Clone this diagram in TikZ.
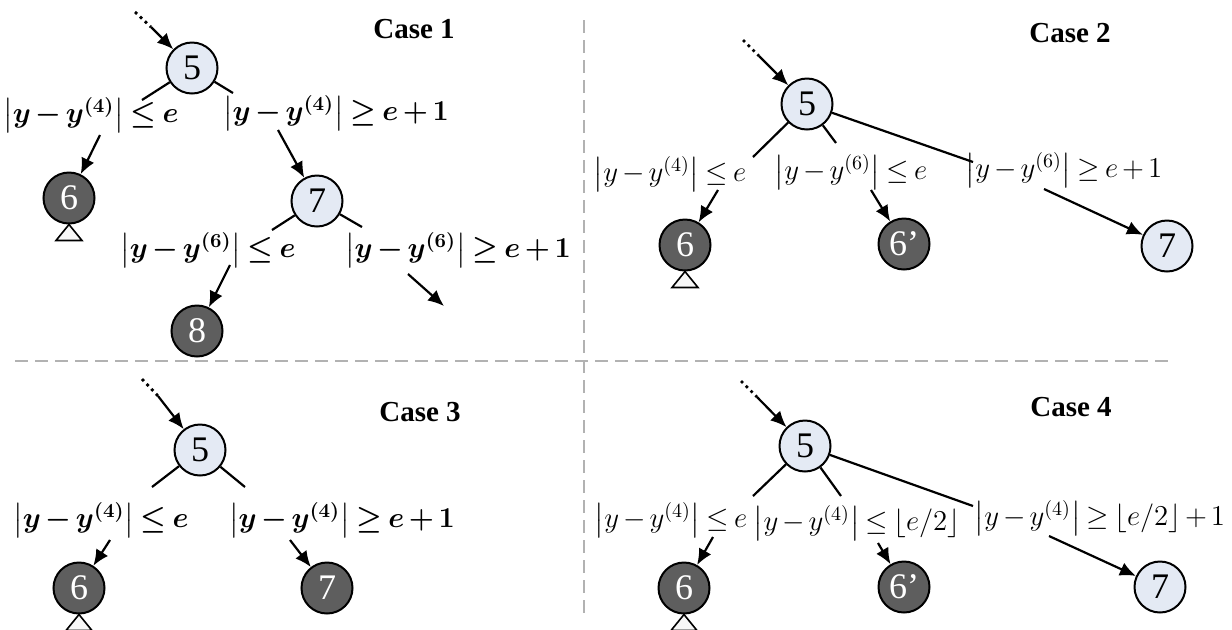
\documentclass[tikz,border=0pt]{standalone}
\usepackage{amsmath}
\usepackage{fontspec}
\newfontfamily\casefont{Liberation Serif}
\usetikzlibrary{arrows.meta}
\definecolor{lightfill}{HTML}{E4EAF4}
\definecolor{darkfill}{HTML}{5E5E5E}
\newcommand\tightmath{\medmuskip=2.5mu\relax\thickmuskip=3.5mu\relax}
\newcommand\dist[1]{\bigl|y-y^{(#1)}\bigr|}

\begin{document}
\begin{tikzpicture}[x=.5pt,y=-.5pt,
    litnode/.style={circle,draw,line width=1pt,fill=lightfill,minimum size=25.5pt,
        inner sep=0pt,font=\casefont\fontsize{18}{18}\selectfont},
    darknode/.style={litnode,fill=darkfill,text=white},
    cond/.style={inner sep=0pt,font=\fontsize{14.5}{16}\selectfont\tightmath},
    bcond/.style={inner sep=0pt,font=\fontsize{14}{16}\selectfont\boldmath\tightmath},
    casetitle/.style={font=\casefont\bfseries\fontsize{14.5}{16}\selectfont},
    branch/.style={line width=1.1pt},
    arr/.style={-{Latex[length=8pt,width=7pt]},line width=1.1pt},
    lead/.style={dotted,line width=1.4pt},
    divider/.style={gray!60,line width=.6pt,dash pattern=on 6.5pt off 3.5pt}]
    \useasboundingbox (0,0) rectangle (1232,629);

    % dividers
    \draw[divider] (584,20) -- (584,620);
    \draw[divider] (15,361) -- (1170,361);

    % Case 1
    \node[casetitle] (t1) at (414,29) {Case 1};
    \node[litnode] (c1n5) at (192,68) {5};
    \node[darknode] (c1n6) at (69,198) {6};
    \node[litnode] (c1n7) at (317,201) {7};
    \node[darknode] (c1n8) at (197,331) {8};
    \node[bcond] (c1l1) at (91,115) {$\dist{4}\le e$};
    \node[bcond] (c1l2) at (336,113) {$\dist{4}\ge e+1$};
    \node[bcond] (c1l3) at (208,250) {$\dist{6}\le e$};
    \node[bcond] (c1l4) at (458,250) {$\dist{6}\ge e+1$};
    \coordinate (c1s) at (135,12);
    \coordinate (c1m) at (151,27);
    \draw[lead] (c1s) -- (c1m);
    \draw[arr] (c1m) -- (c1n5);
    \coordinate (c1a) at (142,100);
    \coordinate (c1b) at (100,135);
    \coordinate (c1c) at (233,93);
    \coordinate (c1d) at (278,130);
    \draw[branch] (c1n5) -- (c1a);
    \draw[arr] (c1b) -- (c1n6);
    \draw[branch] (c1n5) -- (c1c);
    \draw[arr] (c1d) -- (c1n7);
    \coordinate (c1e) at (272,230);
    \coordinate (c1f) at (230,265);
    \coordinate (c1g) at (362,227);
    \coordinate (c1h) at (408,274);
    \coordinate (c1i) at (444,306);
    \draw[branch] (c1n7) -- (c1e);
    \draw[arr] (c1f) -- (c1n8);
    \draw[branch] (c1n7) -- (c1g);
    \draw[arr] (c1h) -- (c1i);

    % Case 2
    \node[casetitle] (t2) at (1070,33) {Case 2};
    \node[litnode] (c2n5) at (807,104) {5};
    \node[darknode] (c2n6) at (685,245) {6};
    \node[darknode] (c2n6b) at (904,244) {6’};
    \node[litnode] (c2n7) at (1167,246) {7};
    \node[cond] (c2l1) at (670,174) {$\dist{4}\le e$};
    \node[cond] (c2l2) at (851,172) {$\dist{6}\le e$};
    \node[cond] (c2l3) at (1064,170) {$\dist{6}\ge e+1$};
    \coordinate (c2s) at (743,40);
    \coordinate (c2m) at (759,56);
    \draw[lead] (c2s) -- (c2m);
    \draw[arr] (c2m) -- (c2n5);
    \coordinate (c2a) at (753,157);
    \coordinate (c2b) at (718,190);
    \coordinate (c2c) at (836,143);
    \coordinate (c2d) at (871,190);
    \coordinate (c2e) at (973,162);
    \coordinate (c2f) at (1044,189);
    \draw[branch] (c2n5) -- (c2a);
    \draw[arr] (c2b) -- (c2n6);
    \draw[branch] (c2n5) -- (c2c);
    \draw[arr] (c2d) -- (c2n6b);
    \draw[branch] (c2n5) -- (c2e);
    \draw[arr] (c2f) -- (c2n7);

    % Case 3
    \node[casetitle] (t3) at (420,412) {Case 3};
    \node[litnode] (c3n5) at (200,450) {5};
    \node[darknode] (c3n6) at (79,588) {6};
    \node[darknode] (c3n7) at (327,588) {7};
    \node[bcond] (c3l1) at (101,520) {$\dist{4}\le e$};
    \node[bcond] (c3l2) at (342,520) {$\dist{4}\ge e+1$};
    \coordinate (c3s) at (142,379);
    \coordinate (c3m) at (158,396);
    \draw[lead] (c3s) -- (c3m);
    \draw[arr] (c3m) -- (c3n5);
    \coordinate (c3a) at (152,487);
    \coordinate (c3b) at (110,540);
    \coordinate (c3c) at (245,487);
    \coordinate (c3d) at (290,540);
    \draw[branch] (c3n5) -- (c3a);
    \draw[arr] (c3b) -- (c3n6);
    \draw[branch] (c3n5) -- (c3c);
    \draw[arr] (c3d) -- (c3n7);

    % Case 4
    \node[casetitle] (t4) at (1071,407) {Case 4};
    \node[litnode] (c4n5) at (805,446) {5};
    \node[darknode] (c4n6) at (684,588) {6};
    \node[darknode] (c4n6b) at (904,587) {6’};
    \node[litnode] (c4n7) at (1160,587) {7};
    \node[cond] (c4l1) at (671,520) {$\dist{4}\le e$};
    \node[cond] (c4l2) at (857,523) {$\dist{4}\le \lfloor e/2\rfloor$};
    \node[cond] (c4l3) at (1100,518) {$\dist{4}\ge \lfloor e/2\rfloor+1$};
    \coordinate (c4s) at (741,381);
    \coordinate (c4m) at (757,397);
    \draw[lead] (c4s) -- (c4m);
    \draw[arr] (c4m) -- (c4n5);
    \coordinate (c4a) at (753,496);
    \coordinate (c4b) at (713,537);
    \coordinate (c4c) at (841,496);
    \coordinate (c4d) at (878,543);
    \coordinate (c4e) at (973,506);
    \coordinate (c4f) at (1049,536);
    \draw[branch] (c4n5) -- (c4a);
    \draw[arr] (c4b) -- (c4n6);
    \draw[branch] (c4n5) -- (c4c);
    \draw[arr] (c4d) -- (c4n6b);
    \draw[branch] (c4n5) -- (c4e);
    \draw[arr] (c4f) -- (c4n7);

    % triangles under the leaves
    \foreach \nn in {c1n6,c2n6,c3n6,c4n6} {
        \draw[line width=.8pt,fill=gray!6] (\nn.south) -- ++(-13,16) -- ++(26,0) -- cycle;
    }
\end{tikzpicture}
\end{document}
